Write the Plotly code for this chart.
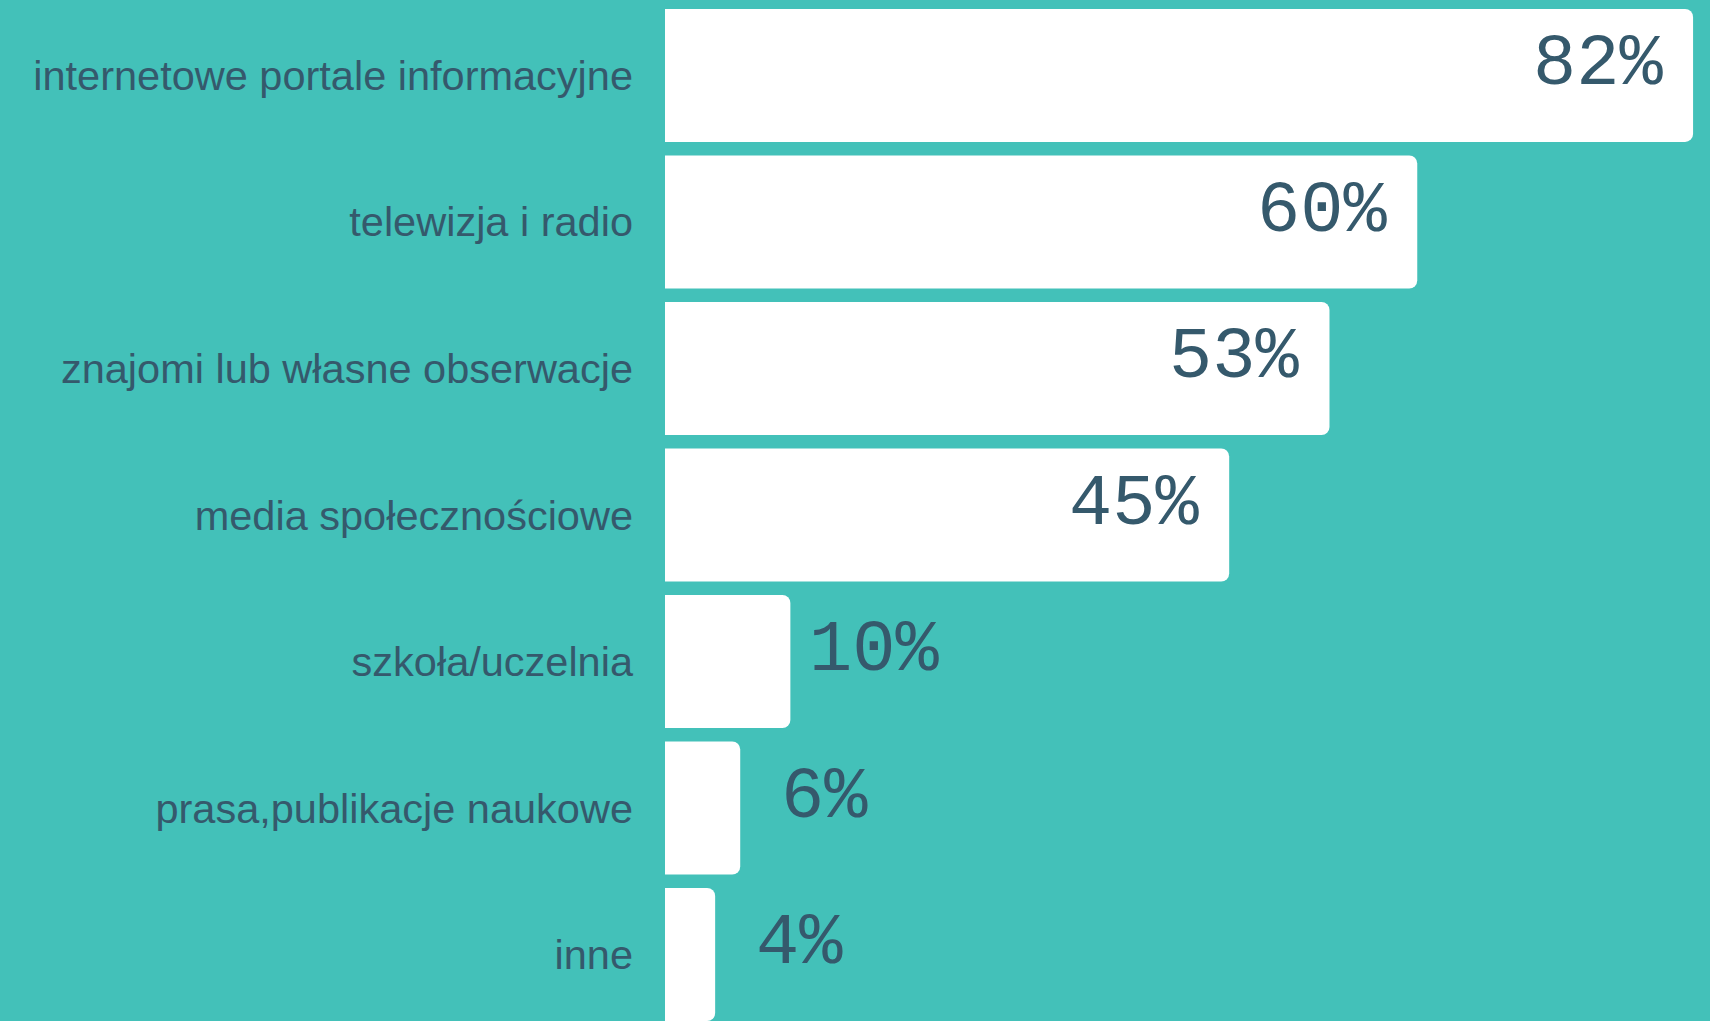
import plotly.graph_objects as go

categories = [
    "internetowe portale informacyjne",
    "telewizja i radio",
    "znajomi lub własne obserwacje",
    "media społecznościowe",
    "szkoła/uczelnia",
    "prasa,publikacje naukowe",
    "inne",
]
values = [82, 60, 53, 45, 10, 6, 4]
value_labels = ["82%", "60%", "53%", "45%", "10%", "6%", "4%"]

BG = "#43C1B9"
TXT = "#35596C"
VAL_FONT = dict(family="Courier New, Liberation Mono, monospace", size=72, color=TXT)

fig = go.Figure(
    go.Bar(
        x=values,
        y=categories,
        orientation="h",
        marker=dict(color="white", line=dict(width=0)),
        hoverinfo="skip",
    )
)

annotations = []
for cat, v, lab in zip(categories, values, value_labels):
    inside = v >= 30
    annotations.append(
        dict(
            x=v,
            y=cat,
            xref="x",
            yref="y",
            text=lab,
            showarrow=False,
            xanchor="right" if inside else "center",
            yanchor="middle",
            xshift=-28 if inside else 84,
            yshift=10,
            font=VAL_FONT,
        )
    )

fig.update_layout(
    width=1710,
    height=1021,
    margin=dict(l=665, r=0, t=0, b=0),
    paper_bgcolor=BG,
    plot_bgcolor=BG,
    bargap=0.092,
    barcornerradius=8,
    showlegend=False,
    annotations=annotations,
    xaxis=dict(
        range=[0, 83.35],
        showgrid=False,
        zeroline=False,
        showticklabels=False,
        showline=False,
        fixedrange=True,
    ),
    yaxis=dict(
        type="category",
        categoryorder="array",
        categoryarray=categories,
        range=[6.454, -0.515],
        showgrid=False,
        zeroline=False,
        showline=False,
        ticks="",
        ticklabelstandoff=31,
        tickfont=dict(family="Liberation Sans, Arial, sans-serif", size=41.5, color=TXT),
        fixedrange=True,
    ),
)

fig.write_html(
    "out.html",
    config={"displayModeBar": False},
    post_script="document.body.style.margin='0';document.body.style.background='" + BG + "';",
)
